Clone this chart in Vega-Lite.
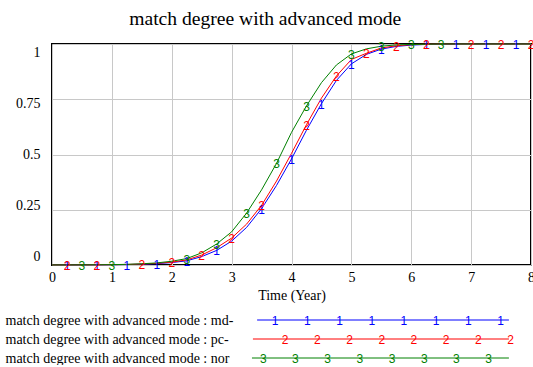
{
  "$schema": "https://vega.github.io/schema/vega-lite/v6.json",
  "padding": {"left": 5, "top": 9, "right": 0, "bottom": 0},
  "background": "white",
  "title": {"text": "match degree with advanced mode", "font": "Liberation Serif", "fontSize": 19.6, "fontWeight": "normal", "color": "black", "anchor": "middle", "frame": "bounds", "offset": 8, "dx": -5},
  "config": {"font": "Liberation Serif", "view": {"stroke": null}, "concat": {"spacing": 10}, "axis": {"labelFont": "Liberation Serif", "titleFont": "Liberation Serif"}},
  "datasets": {
    "series": [
      {"s":"md-","t":0,"v":0.0001},{"s":"md-","t":0.25,"v":0.0002},{"s":"md-","t":0.5,"v":0.0004},{"s":"md-","t":0.75,"v":0.0007},
      {"s":"md-","t":1,"v":0.0012},{"s":"md-","t":1.25,"v":0.002},{"s":"md-","t":1.5,"v":0.0035},{"s":"md-","t":1.75,"v":0.006},
      {"s":"md-","t":2,"v":0.011},{"s":"md-","t":2.25,"v":0.019},{"s":"md-","t":2.5,"v":0.038},{"s":"md-","t":2.75,"v":0.066},
      {"s":"md-","t":3,"v":0.108},{"s":"md-","t":3.25,"v":0.17},{"s":"md-","t":3.5,"v":0.255},{"s":"md-","t":3.75,"v":0.36},
      {"s":"md-","t":4,"v":0.48},{"s":"md-","t":4.25,"v":0.61},{"s":"md-","t":4.5,"v":0.73},{"s":"md-","t":4.75,"v":0.835},
      {"s":"md-","t":5,"v":0.91},{"s":"md-","t":5.25,"v":0.953},{"s":"md-","t":5.5,"v":0.977},{"s":"md-","t":5.75,"v":0.989},
      {"s":"md-","t":6,"v":0.995},{"s":"md-","t":6.25,"v":0.998},{"s":"md-","t":6.5,"v":0.999},{"s":"md-","t":6.75,"v":0.9995},
      {"s":"md-","t":7,"v":1},{"s":"md-","t":7.25,"v":1},{"s":"md-","t":7.5,"v":1},{"s":"md-","t":7.75,"v":1},{"s":"md-","t":8,"v":1},
      {"s":"pc-","t":0,"v":0.0001},{"s":"pc-","t":0.25,"v":0.0002},{"s":"pc-","t":0.5,"v":0.0004},{"s":"pc-","t":0.75,"v":0.0008},
      {"s":"pc-","t":1,"v":0.0014},{"s":"pc-","t":1.25,"v":0.0025},{"s":"pc-","t":1.5,"v":0.0043},{"s":"pc-","t":1.75,"v":0.0075},
      {"s":"pc-","t":2,"v":0.013},{"s":"pc-","t":2.25,"v":0.023},{"s":"pc-","t":2.5,"v":0.045},{"s":"pc-","t":2.75,"v":0.078},
      {"s":"pc-","t":3,"v":0.122},{"s":"pc-","t":3.25,"v":0.185},{"s":"pc-","t":3.5,"v":0.27},{"s":"pc-","t":3.75,"v":0.38},
      {"s":"pc-","t":4,"v":0.505},{"s":"pc-","t":4.25,"v":0.635},{"s":"pc-","t":4.5,"v":0.755},{"s":"pc-","t":4.75,"v":0.855},
      {"s":"pc-","t":5,"v":0.93},{"s":"pc-","t":5.25,"v":0.958},{"s":"pc-","t":5.5,"v":0.982},{"s":"pc-","t":5.75,"v":0.992},
      {"s":"pc-","t":6,"v":0.997},{"s":"pc-","t":6.25,"v":0.999},{"s":"pc-","t":6.5,"v":1},{"s":"pc-","t":6.75,"v":1},
      {"s":"pc-","t":7,"v":1},{"s":"pc-","t":7.25,"v":1},{"s":"pc-","t":7.5,"v":1},{"s":"pc-","t":7.75,"v":1},{"s":"pc-","t":8,"v":1},
      {"s":"nor","t":0,"v":0.0001},{"s":"nor","t":0.25,"v":0.0002},{"s":"nor","t":0.5,"v":0.0005},{"s":"nor","t":0.75,"v":0.0009},
      {"s":"nor","t":1,"v":0.0016},{"s":"nor","t":1.25,"v":0.003},{"s":"nor","t":1.5,"v":0.0055},{"s":"nor","t":1.75,"v":0.0095},
      {"s":"nor","t":2,"v":0.017},{"s":"nor","t":2.25,"v":0.029},{"s":"nor","t":2.5,"v":0.055},{"s":"nor","t":2.75,"v":0.095},
      {"s":"nor","t":3,"v":0.15},{"s":"nor","t":3.25,"v":0.235},{"s":"nor","t":3.5,"v":0.34},{"s":"nor","t":3.75,"v":0.46},
      {"s":"nor","t":4,"v":0.6},{"s":"nor","t":4.25,"v":0.72},{"s":"nor","t":4.5,"v":0.825},{"s":"nor","t":4.75,"v":0.905},
      {"s":"nor","t":5,"v":0.955},{"s":"nor","t":5.25,"v":0.978},{"s":"nor","t":5.5,"v":0.99},{"s":"nor","t":5.75,"v":0.996},
      {"s":"nor","t":6,"v":0.998},{"s":"nor","t":6.25,"v":0.999},{"s":"nor","t":6.5,"v":1},{"s":"nor","t":6.75,"v":1},
      {"s":"nor","t":7,"v":1},{"s":"nor","t":7.25,"v":1},{"s":"nor","t":7.5,"v":1},{"s":"nor","t":7.75,"v":1},{"s":"nor","t":8,"v":1}
    ],
    "legendLines": [
      {"s":"md-","a":6.37,"b":14.19},
      {"s":"pc-","a":6.24,"b":14.19},
      {"s":"nor","a":6.21,"b":14.19}
    ],
    "legendMarks": [
      {"s":"md-","p":6.93},{"s":"md-","p":7.93},{"s":"md-","p":8.93},{"s":"md-","p":9.93},{"s":"md-","p":10.93},{"s":"md-","p":11.93},{"s":"md-","p":12.93},{"s":"md-","p":13.93},
      {"s":"pc-","p":7.24},{"s":"pc-","p":8.24},{"s":"pc-","p":9.24},{"s":"pc-","p":10.24},{"s":"pc-","p":11.24},{"s":"pc-","p":12.24},{"s":"pc-","p":13.24},{"s":"pc-","p":14.24},
      {"s":"nor","p":6.56},{"s":"nor","p":7.56},{"s":"nor","p":8.56},{"s":"nor","p":9.56},{"s":"nor","p":10.56},{"s":"nor","p":11.56},{"s":"nor","p":12.56},{"s":"nor","p":13.56}
    ]
  },
  "vconcat": [
    {
      "width": 479,
      "height": 221,
      "view": {"stroke": "black", "strokeWidth": 2},
      "data": {"name": "series"},
      "encoding": {
        "x": {"field": "t", "type": "quantitative", "scale": {"domain": [0, 8], "nice": false},
          "axis": {"title": "Time (Year)", "values": [0,1,2,3,4,5,6,7,8], "format": "d", "grid": true, "gridColor": "#c8c8c8", "gridWidth": 1,
            "ticks": false, "domain": false, "labelFlush": false, "labelFont": "Liberation Serif", "labelFontSize": 14, "labelColor": "black",
            "labelPadding": 5, "titleFont": "Liberation Serif", "titleFontSize": 14, "titleFontWeight": "normal", "titleColor": "black", "titlePadding": 4}},
        "y": {"field": "v", "type": "quantitative", "scale": {"domain": [0, 1], "nice": false},
          "axis": {"title": null, "values": [0,0.25,0.5,0.75,1], "format": ".2~f", "grid": true, "gridColor": "#c8c8c8", "gridWidth": 1,
            "ticks": false, "domain": false, "labelFlush": false, "labelFont": "Liberation Serif", "labelFontSize": 14, "labelColor": "black",
            "labelPadding": 12, "labelOffset": {"expr": "(datum.value - 0.5) * 17"}}},
        "color": {"field": "s", "type": "nominal", "scale": {"domain": ["md-","pc-","nor"], "range": ["#0000ff","#ff0000","#008000"]}, "legend": null}
      },
      "layer": [
        {"mark": {"type": "line", "strokeWidth": 1}},
        {
          "transform": [{"filter": "(datum.s=='md-' && indexof([0.25,0.75,1.25,1.75,2.25,2.75,3.5,4,4.5,5,5.5,6.25,6.75,7.25,7.75], datum.t)>=0) || (datum.s=='pc-' && indexof([0.25,0.75,1.5,2,2.5,3,3.5,4.25,4.75,5.25,5.75,6.25,7,7.5,8], datum.t)>=0) || (datum.s=='nor' && indexof([0.5,1,2.25,2.75,3.25,3.75,4.25,5,5.5,6,6.5], datum.t)>=0)"}],
          "mark": {"type": "text", "font": "Liberation Sans", "fontSize": 12, "baseline": "middle", "dy": 1},
          "encoding": {"text": {"condition": [{"test": "datum.s=='md-'", "value": "1"}, {"test": "datum.s=='pc-'", "value": "2"}], "value": "3"}}
        }
      ]
    },
    {
      "width": 479,
      "height": 38,
      "view": {"stroke": null},
      "encoding": {
        "y": {"field": "s", "type": "nominal", "scale": {"type": "point", "padding": 0, "domain": ["md-","pc-","nor"]},
          "axis": {"title": null, "domain": false, "ticks": false, "tickSize": 0, "grid": false, "labelAlign": "left", "labelBaseline": "middle",
            "labelPadding": 47, "labelLimit": 400, "labelFont": "Liberation Serif", "labelFontSize": 14, "labelColor": "black",
            "labelExpr": "'match degree with advanced mode : ' + datum.label"}},
        "color": {"field": "s", "type": "nominal", "scale": {"domain": ["md-","pc-","nor"], "range": ["#0000ff","#ff0000","#008000"]}, "legend": null}
      },
      "layer": [
        {
          "data": {"name": "legendLines"},
          "mark": {"type": "rule", "strokeWidth": 1},
          "encoding": {
            "x": {"field": "a", "type": "quantitative", "scale": {"domain": [0, 14.876], "nice": false, "zero": false}, "axis": null},
            "x2": {"field": "b"}
          }
        },
        {
          "data": {"name": "legendMarks"},
          "mark": {"type": "text", "font": "Liberation Sans", "fontSize": 12, "baseline": "middle", "dy": 1},
          "encoding": {
            "x": {"field": "p", "type": "quantitative", "scale": {"domain": [0, 14.876], "nice": false, "zero": false}, "axis": null},
            "text": {"condition": [{"test": "datum.s=='md-'", "value": "1"}, {"test": "datum.s=='pc-'", "value": "2"}], "value": "3"}
          }
        }
      ]
    }
  ]
}
